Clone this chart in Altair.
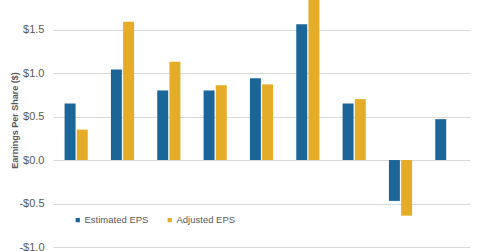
import altair as alt
import pandas as pd

groups = ["1", "2", "3", "4", "5", "6", "7", "8", "9"]
estimated = [0.65, 1.04, 0.80, 0.80, 0.94, 1.56, 0.65, -0.47, 0.47]
adjusted = [0.35, 1.59, 1.13, 0.86, 0.87, 1.95, 0.70, -0.64, None]
series = ["Estimated EPS", "Adjusted EPS"]
colors = ["#1b6698", "#e5ad27"]

rows = []
for g, e, a in zip(groups, estimated, adjusted):
    rows.append({"group": g, "series": series[0], "value": e})
    if a is not None:
        rows.append({"group": g, "series": series[1], "value": a})
df = pd.DataFrame(rows)

label_expr = "datum.value < 0 ? '-$' + format(abs(datum.value), '.1f') : '$' + format(datum.value, '.1f')"

chart = alt.Chart(df).mark_bar(clip=True).encode(
    x=alt.X("group:N", sort=groups, axis=None,
            scale=alt.Scale(paddingInner=0.5, paddingOuter=0.25)),
    xOffset=alt.XOffset("series:N", sort=series, scale=alt.Scale(paddingInner=0.1)),
    y=alt.Y("value:Q", scale=alt.Scale(domain=[-1.0, 1.84], nice=False, zero=False),
            axis=alt.Axis(values=[-1.0, -0.5, 0.0, 0.5, 1.0, 1.5], labelExpr=label_expr,
                          title="Earnings Per Share ($)", titleFontSize=9, titleFontWeight="bold",
                          titleColor="#595959", titleX=-39, titleY=120, titleBaseline="middle",
                          labelColor="#595959", labelFontSize=11,
                          labelFont="Liberation Sans", titleFont="Liberation Sans",
                          labelPadding=9, ticks=False, domain=False, gridColor="#d9d9d9",
                          labelOverlap=False)),
    color=alt.Color("series:N", sort=series, scale=alt.Scale(domain=series, range=colors),
                    legend=alt.Legend(title=None, orient="none", legendX=20, legendY=215,
                                      direction="horizontal", symbolType="square", symbolSize=18,
                                      labelFontSize=9.5, labelColor="#595959", labelFont="Liberation Sans",
                                      labelOffset=2, columnPadding=16, symbolStrokeWidth=0)),
).properties(
    width=417, height=247,
    autosize=alt.AutoSizeParams(type="none"),
    padding={"left": 53, "top": 0, "right": 10, "bottom": 4},
).configure_view(stroke=None)

chart.save("out.html", embed_options={"renderer": "svg", "actions": False})
